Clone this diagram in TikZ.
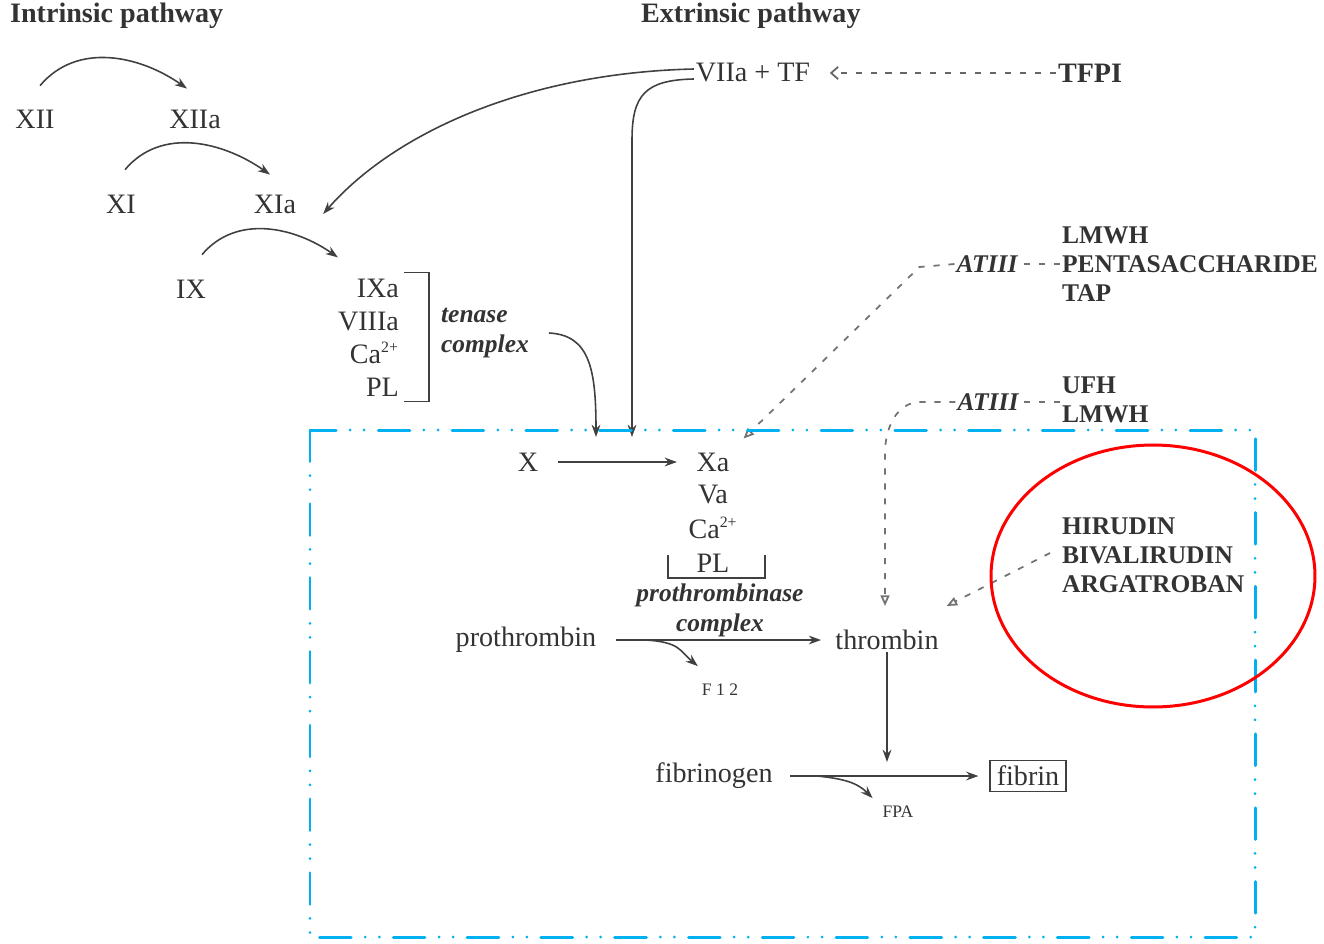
\documentclass[tikz,border=0pt]{standalone}
\usepackage{fontspec}
\setmainfont{Liberation Serif}
\usetikzlibrary{arrows.meta,positioning,calc}

\begin{document}
\begin{tikzpicture}[x=0.02cm, y=0.02cm]
  \tikzstyle{factor} = [inner sep=1pt, text=black!80, font=\fontsize{16}{18.7}\selectfont]
  \tikzstyle{title} = [inner sep=1pt, anchor=west, text=black!80, font=\fontsize{16}{18}\selectfont\bfseries]
  \tikzstyle{drug} = [inner sep=1pt, anchor=west, align=left, text=black!80, font=\fontsize{14.5}{16.5}\selectfont\bfseries]
  \tikzstyle{cplx} = [inner sep=1pt, align=center, text=black!80, font=\fontsize{14.5}{17}\selectfont\bfseries\itshape]
  \tikzstyle{small} = [inner sep=1pt, text=black!80, font=\fontsize{10}{12}\selectfont]
  \tikzstyle{arrow} = [-{Stealth[length=7pt,width=5pt]}, line width=0.9pt, draw=black!75]
  \tikzstyle{inhib} = [-{Triangle[open,length=6pt,width=5pt]}, line width=1pt, draw=black!55,
                      dash pattern=on 3.5pt off 5pt]
  \tikzstyle{bracket} = [line width=0.9pt, draw=black!75]
  \newcommand{\ion}{Ca\textsuperscript{\fontsize{9}{9}\selectfont 2+}}
  \useasboundingbox (0,0) rectangle (1324,-943);

  % pathways
  \node[title] (intr) at (8,-16) {Intrinsic pathway};
  \node[title] (extr) at (639,-16) {Extrinsic pathway};

  % intrinsic cascade
  \node[factor] (xii) at (35,-119) {XII};
  \node[factor] (xiia) at (195,-119) {XIIa};
  \node[factor] (xi) at (121,-204) {XI};
  \node[factor] (xia) at (275,-204) {XIa};
  \node[factor] (ix) at (191,-289) {IX};
  \node[factor, align=right, anchor=east] (ixa) at (401,-338) {IXa\\VIIIa\\\ion\\PL};
  \node[cplx, align=left, anchor=west] (tenase) at (439,-333) {tenase\\complex};
  \draw[arrow] ([shift={(5,22)}]xii.north) to[out=50,in=145] ([shift={(-8,19)}]xiia.north);
  \draw[arrow] ([shift={(4,23)}]xi.north) to[out=50,in=145] ([shift={(-5,18)}]xia.north);
  \draw[arrow] ([shift={(11,23)}]ix.north) to[out=50,in=145] ([shift={(2,20)}]ixa.north west);
  \draw[bracket] ([shift={(3,5)}]ixa.north east) -- ++(25,0) |- ([shift={(3,-3)}]ixa.south east);

  % extrinsic
  \node[factor] (vtf) at (753,-73) {VIIa + TF};
  \node[title, anchor=center] (tfpi) at (1090,-73) {TFPI};
  \draw[-{Straight Barb[length=4pt,width=7pt]}, line width=1pt, draw=black!60, dash pattern=on 3.5pt off 5pt,
        shorten >=10pt] (tfpi.west) -- (vtf.east);
  \coordinate (xin) at (632,-437);
  \coordinate (tin) at (596,-437);
  \draw[arrow] ([shift={(0,4)}]vtf.west) .. controls +(-170,-4) and +(70,80) .. ([shift={(25,-10)}]xia.east);
  \draw[arrow] ([shift={(0,-6)}]vtf.west) .. controls (645,-80) and (632,-95) .. (632,-140) -- (xin);
  \draw[arrow] ([shift={(18,0)}]tenase.east) .. controls (590,-335) and (596,-370) .. (tin);

  % common pathway
  \node[factor] (x) at (528,-462) {X};
  \node[factor] (xa) at (713,-462) {Xa};
  \node[factor] (va) at (713,-495) {Va};
  \node[factor] (ca) at (713,-528) {\ion};
  \node[factor] (pl) at (713,-563) {PL};
  \draw[bracket] ([shift={(-45,8)}]pl.center) -- ++(0,-23) -- ++(97,0) -- ++(0,23);
  \node[cplx] (pcplx) at (720,-610) {prothrombinase\\complex};
  \draw[arrow, shorten <=10pt, shorten >=10pt] (x) -- (xa);

  \node[factor] (pro) at (526,-640) {prothrombin};
  \node[factor] (thr) at (887,-640) {thrombin};
  \node[small] (f12) at (720,-690) {F 1 2};
  \draw[arrow, shorten <=10pt, shorten >=7pt] (pro.east) -- (thr.west);
  \draw[arrow] ($(pro.east)!0.2!(thr.west)$) .. controls +(35,-2) and +(-18,15) .. ([shift={(-2,16)}]f12.north west);

  \node[factor] (fbg) at (714,-776) {fibrinogen};
  \node[factor, draw=black!75, line width=0.9pt, inner xsep=4pt, inner ysep=3pt] (fbn) at (1028,-776) {fibrin};
  \node[small] (fpa) at (898,-812) {FPA};
  \draw[arrow] (thr.south) -- ++(0,-110);
  \draw[arrow, shorten <=9pt, shorten >=6pt] (fbg.east) -- (fbn.west);
  \draw[arrow] ($(fbg.east)!0.2!(fbn.west)$) .. controls +(28,-3) and +(-15,15) .. ([shift={(-8,6)}]fpa.north west);

  % inhibitors
  \node[drug] (drugA) at (1060,-264) {LMWH\\PENTASACCHARIDE\\TAP};
  \node[cplx] (atA) at (987,-264) {ATIII};
  \node[drug] (drugB) at (1060,-400) {UFH\\LMWH};
  \node[cplx] (atB) at (988,-402) {ATIII};
  \node[drug] (hir) at (1060,-555) {HIRUDIN\\BIVALIRUDIN\\ARGATROBAN};
  \draw[inhib, -] (drugA.west) -- (atA.east);
  \draw[inhib, -] ([shift={(0,-2)}]drugB.west) -- (atB.east);
  \draw[inhib] (atA.west) -- ++(-35,-3) -- ([shift={(12,12)}]xa.north east);
  \draw[inhib] (atB.west) -- ++(-35,0) to[out=180,in=90] ([shift={(-2,175)}]thr.north) -- ([shift={(-2,22)}]thr.north);
  \draw[inhib] ([shift={(-10,2)}]hir.west) -- ([shift={(6,22)}]thr.north east);

  % highlight
  \draw[draw={rgb,255:red,0;green,176;blue,240}, line width=1.7pt, line cap=round,
        dash pattern=on 18pt off 8pt on 0pt off 8pt on 0pt off 8pt] (310,-430) rectangle (1255,-937);
  \draw[red, line width=1.7pt] (1153,-576) ellipse [x radius=3.24cm, y radius=2.62cm];
\end{tikzpicture}
\end{document}
